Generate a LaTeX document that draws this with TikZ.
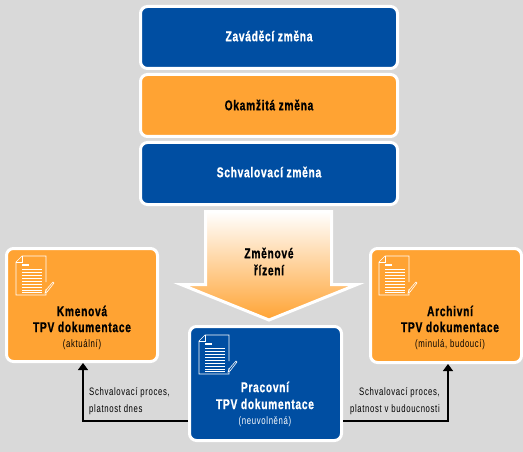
\documentclass[tikz,border=0pt]{standalone}
\usepackage{fontspec}
\setmainfont[FakeStretch=0.72,LetterSpace=5,FakeBold=0.8]{Liberation Sans}
\newfontfamily\smallfam[FakeStretch=0.72,LetterSpace=6]{Liberation Sans}
\usetikzlibrary{arrows.meta}
\definecolor{bggray}{RGB}{217,217,217}
\definecolor{tblue}{RGB}{0,78,162}
\definecolor{torange}{RGB}{255,163,51}
\tikzset{
  x=1pt,y=-1pt,
  panel/.style={draw=white,line width=3pt,rounded corners=7pt,anchor=north west,inner sep=0pt,outer sep=1.5pt},
  bluepanel/.style={panel,fill=tblue},
  orangepanel/.style={panel,fill=torange},
  bigw/.style={font=\bfseries\fontsize{14.2}{14.2}\selectfont,text=white,inner sep=0pt},
  bigk/.style={font=\bfseries\fontsize{14.2}{14.2}\selectfont,text=black,inner sep=0pt},
  smallw/.style={font=\smallfam\fontsize{10.8}{10.8}\selectfont,text=white,inner sep=0pt},
  smallk/.style={font=\smallfam\fontsize{10.8}{10.8}\selectfont,text=black,inner sep=0pt},
  link/.style={draw=black,line width=1.2pt,-{Triangle[length=7pt,width=10pt]}},
  docicon/.pic={
    \draw[white,line width=.6pt,line join=miter] (30,26) -- (30,0) -- (6,0) -- (0,6) -- (0,39) -- (30,39) -- (30,33);
    \draw[white,line width=.6pt] (0,6) -- (6,6) -- (6,0);
    \foreach \yy in {13,16.5,19.5,22.5,25.5,28.5,31.5,34,36}
      \draw[white,line width=1pt] (6,\yy) -- (26,\yy);
    \draw[white,line width=1.2pt] (6,9) -- (13,9);
    \draw[white,line width=.6pt] (30,34) -- (37,26) -- (38,27) -- (31,36) -- (29,37) -- cycle;
  }
}
\begin{document}
\begin{tikzpicture}
\useasboundingbox (0,0) rectangle (523,452);
\fill[bggray] (0,0) rectangle (523,452);

% top bars
\node[bluepanel,minimum width=257pt,minimum height=62pt] (zav) at (139,5) {};
\node[orangepanel,minimum width=257pt,minimum height=62pt] (oka) at (139,73) {};
\node[bluepanel,minimum width=257pt,minimum height=62pt] (sch) at (139,141) {};
\node[bigw] (zavt) at (269,36) {Zaváděcí změna};
\node[bigk] (okat) at (269,105) {Okamžitá změna};
\node[bigw] (scht) at (269,172) {Schvalovací změna};

% arrow
\shade[top color=white,bottom color=torange,draw=white,line width=3pt,miter limit=10]
  (205.5,211.5) -- (331.5,211.5) -- (331.5,284.5) -- (357,284.5) -- (269,320) -- (181,284.5) -- (205.5,284.5) -- cycle;
\node[bigk] (zmt) at (269,253) {Změnové};
\node[bigk] (rit) at (269,270) {řízení};

% boxes
\node[orangepanel,minimum width=151pt,minimum height=113pt] (kmen) at (5,247) {};
\node[orangepanel,minimum width=151pt,minimum height=114pt] (arch) at (369,247) {};
\node[bluepanel,minimum width=152pt,minimum height=114pt] (prac) at (188,325) {};

\pic at (16,256) {docicon};
\pic at (379,256) {docicon};
\pic at (199,335) {docicon};

\node[bigk] (k1) at (82,311) {Kmenová};
\node[bigk] (k2) at (82,327) {TPV dokumentace};
\node[smallk] (k3) at (82,345) {(aktuální)};
\node[bigk] (a1) at (450,311) {Archivní};
\node[bigk] (a2) at (450,327) {TPV dokumentace};
\node[smallk] (a3) at (450,345) {(minulá, budoucí)};
\node[bigw] (p1) at (265,387) {Pracovní};
\node[bigw] (p2) at (265,404) {TPV dokumentace};
\node[smallw] (p3) at (265,422) {(neuvolněná)};

% connectors
\coordinate (lc) at (83,421);
\coordinate (rc) at (448,421);
\draw[link] (prac.west |- lc) -- (lc) -- (lc |- kmen.south);
\draw[link] (prac.east |- rc) -- (rc) -- (rc |- arch.south);
\node[smallk,anchor=west] (l1) at (89,393) {Schvalovací proces,};
\node[smallk,anchor=west] (l2) at (89,410) {platnost dnes};
\node[smallk,anchor=east] (r1) at (440,393) {Schvalovací proces,};
\node[smallk,anchor=east] (r2) at (440,410) {platnost v budoucnosti};
\end{tikzpicture}
\end{document}
